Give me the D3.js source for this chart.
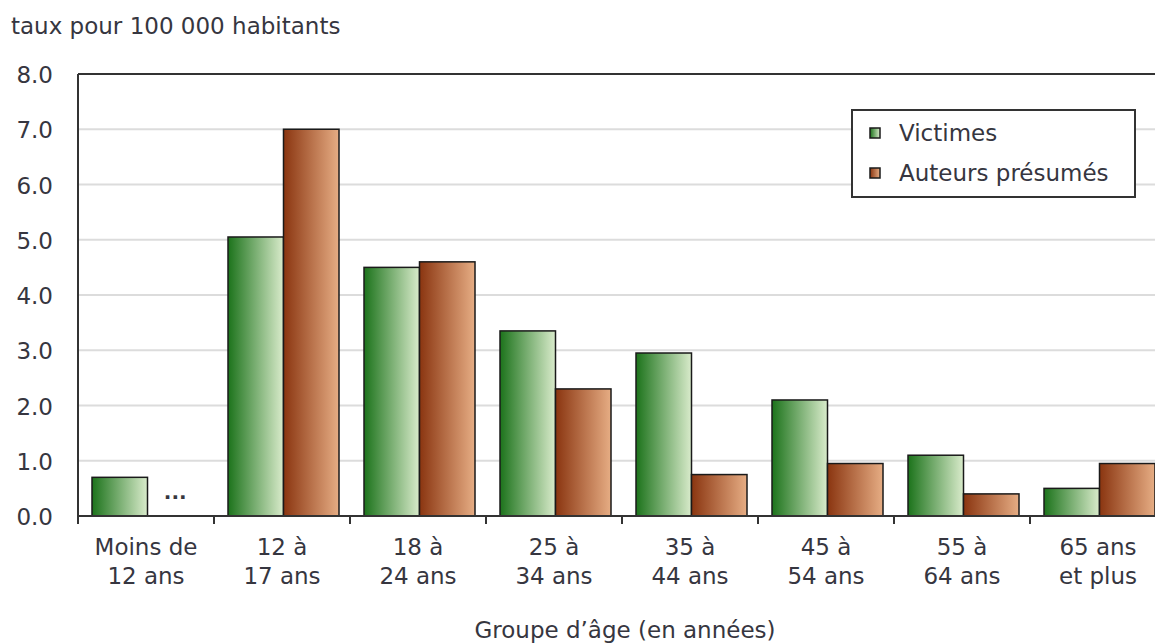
<!DOCTYPE html>
<html>
<head>
<meta charset="utf-8">
<script src="https://cdn.jsdelivr.net/npm/d3@7"></script>
<style>
body { margin: 0; background: #fff; }
text { font-family: "DejaVu Sans", Verdana, sans-serif; fill: #363640; }
</style>
</head>
<body>
<div id="chart"></div>
<script>
var width = 1155;
var height = 644;

// data
var groups = [["Moins de", "12 ans"], ["12 à", "17 ans"], ["18 à", "24 ans"], ["25 à", "34 ans"],
  ["35 à", "44 ans"], ["45 à", "54 ans"], ["55 à", "64 ans"], ["65 ans", "et plus"]];
var seriesNames = ["Victimes", "Auteurs présumés"];
var victimes = [0.7, 5.05, 4.5, 3.35, 2.95, 2.1, 1.1, 0.5];
var auteurs = [null, 7.0, 4.6, 2.3, 0.75, 0.95, 0.4, 0.95];
var yTicks = [0, 1, 2, 3, 4, 5, 6, 7, 8];

var margin = {left: 78, top: 74, right: -11, bottom: 128};
var plotW = width - margin.left - margin.right;
var plotH = height - margin.top - margin.bottom;
var fs = "23px";

var svg = d3.select("#chart").append("svg")
  .attr("width", width)
  .attr("height", height);

var defs = svg.append("defs");
function grad(id, c1, c2) {
  var g = defs.append("linearGradient").attr("id", id)
    .attr("x1", "0%").attr("x2", "100%").attr("y1", "0%").attr("y2", "0%");
  g.append("stop").attr("offset", "0%").attr("stop-color", c1);
  g.append("stop").attr("offset", "100%").attr("stop-color", c2);
}
grad("gGreen", "#1c731b", "#d9ebcb");
grad("gOrange", "#8a3510", "#e6ad84");
var fills = ["url(#gGreen)", "url(#gOrange)"];

var x = d3.scaleBand()
  .domain(d3.range(groups.length))
  .range([0, plotW])
  .paddingInner(0)
  .paddingOuter(0);
var x1 = d3.scaleBand()
  .domain([0, 1])
  .range([14, x.bandwidth() - 11]);
var y = d3.scaleLinear().domain([0, 8]).range([plotH, 0]);

var g = svg.append("g").attr("transform", "translate(" + margin.left + "," + margin.top + ")");

// gridlines
g.append("g").selectAll("line")
  .data(yTicks.slice(1, -1))
  .enter().append("line")
  .attr("x1", 0).attr("x2", plotW)
  .attr("y1", d => y(d)).attr("y2", d => y(d))
  .attr("stroke", "#dcdcdc")
  .attr("stroke-width", 2);

// y labels
g.append("g").selectAll("text")
  .data(yTicks)
  .enter().append("text")
  .attr("x", -25)
  .attr("y", d => y(d) + 1)
  .attr("dy", "0.35em")
  .attr("text-anchor", "end")
  .style("font-size", fs)
  .text(d => d3.format(".1f")(d));

// bars
var data = [];
groups.forEach(function(gr, i) {
  data.push({i: i, s: 0, v: victimes[i]});
  data.push({i: i, s: 1, v: auteurs[i]});
});

g.append("g").selectAll("rect")
  .data(data.filter(d => d.v != null))
  .enter().append("rect")
  .attr("x", d => x(d.i) + x1(d.s))
  .attr("y", d => y(d.v))
  .attr("width", x1.bandwidth())
  .attr("height", d => plotH - y(d.v))
  .attr("fill", d => fills[d.s])
  .attr("stroke", "#1a1a1a")
  .attr("stroke-width", 1.5);

// missing value marker
g.append("g").selectAll("text")
  .data(data.filter(d => d.v == null))
  .enter().append("text")
  .attr("x", d => x(d.i) + x1(d.s) + x1.bandwidth() / 2)
  .attr("y", plotH - 17)
  .attr("text-anchor", "middle")
  .style("font-size", "20px")
  .style("font-weight", "bold")
  .text("...");

// frame
g.append("line").attr("x1", 0).attr("x2", 0).attr("y1", 0).attr("y2", plotH)
  .attr("stroke", "#333").attr("stroke-width", 2);
g.append("line").attr("x1", 0).attr("x2", plotW).attr("y1", 0).attr("y2", 0)
  .attr("stroke", "#333").attr("stroke-width", 2);
g.append("line").attr("x1", 0).attr("x2", plotW).attr("y1", plotH).attr("y2", plotH)
  .attr("stroke", "#333").attr("stroke-width", 2);

// x ticks
g.append("g").selectAll("line")
  .data(d3.range(groups.length + 1))
  .enter().append("line")
  .attr("x1", d => d * x.step()).attr("x2", d => d * x.step())
  .attr("y1", plotH).attr("y2", plotH + 8)
  .attr("stroke", "#333").attr("stroke-width", 2);

// x labels
var xl = g.append("g").selectAll("text")
  .data(groups)
  .enter().append("text")
  .attr("x", (d, i) => x(i) + x.bandwidth() / 2)
  .attr("y", plotH + 39)
  .attr("text-anchor", "middle")
  .style("font-size", fs);
xl.append("tspan").attr("x", (d, i) => x(i) + x.bandwidth() / 2).text(d => d[0]);
xl.append("tspan").attr("x", (d, i) => x(i) + x.bandwidth() / 2).attr("dy", 29).text(d => d[1]);

// axis titles
svg.append("text")
  .attr("x", 11).attr("y", 34)
  .style("font-size", fs)
  .text("taux pour 100 000 habitants");
svg.append("text")
  .attr("x", 625).attr("y", 638)
  .attr("text-anchor", "middle")
  .style("font-size", fs)
  .text("Groupe d’âge (en années)");

// legend
var lg = svg.append("g").attr("transform", "translate(852,110)");
lg.append("rect").attr("width", 283).attr("height", 87)
  .attr("fill", "#fff").attr("stroke", "#333").attr("stroke-width", 2);
var li = lg.selectAll("g.item")
  .data(seriesNames)
  .enter().append("g")
  .attr("transform", (d, i) => "translate(18," + (23 + i * 40) + ")");
li.append("rect").attr("x", 0).attr("y", -5).attr("width", 10).attr("height", 10)
  .attr("fill", (d, i) => fills[i]).attr("stroke", "#1a1a1a").attr("stroke-width", 1.5);
li.append("text").attr("x", 29).attr("dy", "0.35em")
  .style("font-size", fs)
  .text(d => d);
</script>
</body>
</html>
